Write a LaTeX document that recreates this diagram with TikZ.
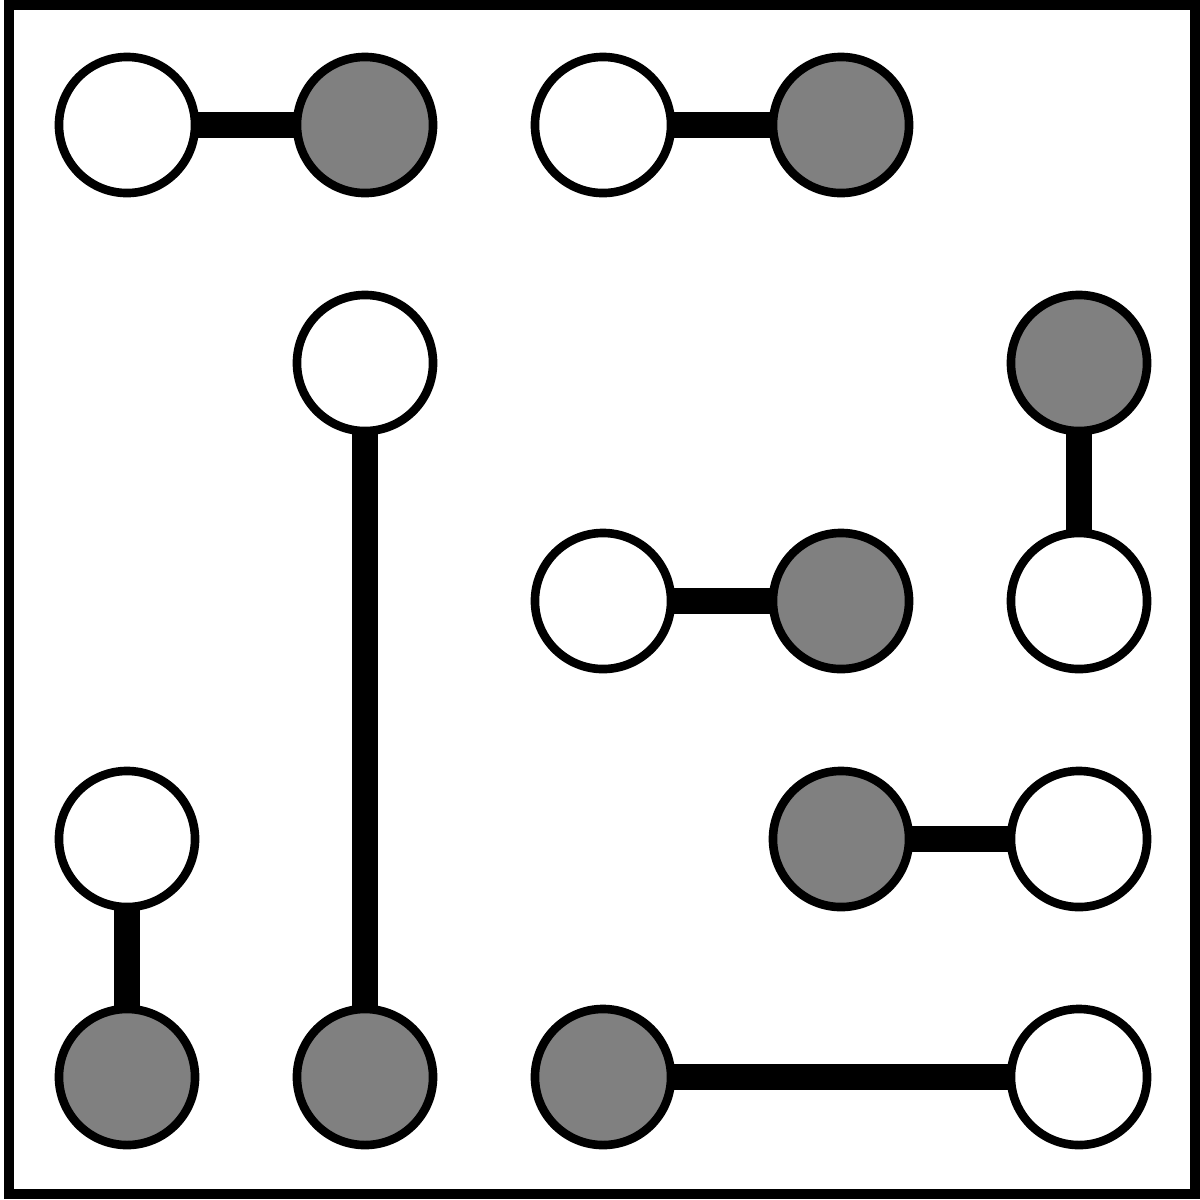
\documentclass[tikz,border=0pt]{standalone}
\usetikzlibrary{backgrounds}
\begin{document}
\begin{tikzpicture}[x=0.01cm,y=-0.01cm,
  ball/.style={circle,draw=black,line width=2.45pt,minimum size=1.36cm,inner sep=0pt},
  wball/.style={ball,fill=white},
  gball/.style={ball,fill=black!50},
  bond/.style={line width=7.4pt,black}]
\useasboundingbox (0,0) rectangle (1200,1199);
\draw[line width=2.85pt] (9,5) rectangle (1195,1194);
% row 1
\node[wball] (a1) at (127,125) {};
\node[gball] (a2) at (365,125) {};
\node[wball] (a3) at (603,125) {};
\node[gball] (a4) at (841,125) {};
% row 2
\node[wball] (b2) at (365,363) {};
\node[gball] (b5) at (1079,363) {};
% row 3
\node[wball] (c3) at (603,601) {};
\node[gball] (c4) at (841,601) {};
\node[wball] (c5) at (1079,601) {};
% row 4
\node[wball] (d1) at (127,839) {};
\node[gball] (d4) at (841,839) {};
\node[wball] (d5) at (1079,839) {};
% row 5
\node[gball] (e1) at (127,1077) {};
\node[gball] (e2) at (365,1077) {};
\node[gball] (e3) at (603,1077) {};
\node[wball] (e5) at (1079,1077) {};
\begin{pgfonlayer}{background}
\draw[bond] (a1.center) -- (a2.center);
\draw[bond] (a3.center) -- (a4.center);
\draw[bond] (b2.center) -- (e2.center);
\draw[bond] (b5.center) -- (c5.center);
\draw[bond] (c3.center) -- (c4.center);
\draw[bond] (d1.center) -- (e1.center);
\draw[bond] (d4.center) -- (d5.center);
\draw[bond] (e3.center) -- (e5.center);
\end{pgfonlayer}
\end{tikzpicture}
\end{document}
